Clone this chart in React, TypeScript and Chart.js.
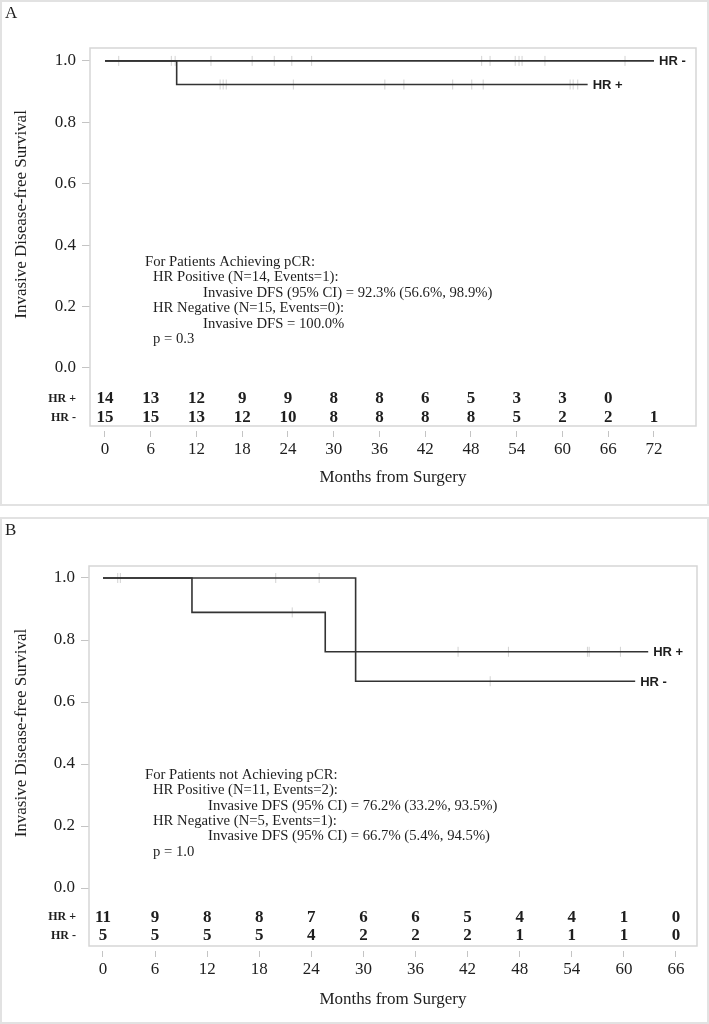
import React, { useEffect, useRef } from 'react';
import { Chart, registerables } from 'chart.js';

Chart.register(...registerables);

// ---------------- Panel A data ----------------
const monthsA = [0, 6, 12, 18, 24, 30, 36, 42, 48, 54, 60, 66, 72];
const riskA_HRpos = [14, 13, 12, 9, 9, 8, 8, 6, 5, 3, 3, 0];
const riskA_HRneg = [15, 15, 13, 12, 10, 8, 8, 8, 8, 5, 2, 2, 1];
const kmA_HRpos_t = [0, 9.4, 63.3];
const kmA_HRpos_s = [1, 0.923, 0.923];
const kmA_HRneg_t = [0, 72];
const kmA_HRneg_s = [1, 1];
const censA_HRpos = [1.8, 15.1, 15.5, 15.9, 24.7, 36.7, 39.2, 45.6, 48.1, 49.6, 61.0, 61.4, 62.0];
const censA_HRneg = [8.7, 9.2, 13.9, 19.3, 22.2, 24.5, 27.1, 49.4, 50.5, 53.8, 54.3, 54.7, 57.7, 68.2];
const noteA = [
  'For Patients Achieving pCR:',
  'HR Positive (N=14, Events=1):',
  'Invasive DFS (95% CI) = 92.3% (56.6%, 98.9%)',
  'HR Negative (N=15, Events=0):',
  'Invasive DFS = 100.0%',
  'p = 0.3',
];

// ---------------- Panel B data ----------------
const monthsB = [0, 6, 12, 18, 24, 30, 36, 42, 48, 54, 60, 66];
const riskB_HRpos = [11, 9, 8, 8, 7, 6, 6, 5, 4, 4, 1, 0];
const riskB_HRneg = [5, 5, 5, 5, 4, 2, 2, 2, 1, 1, 1, 0];
const kmB_HRpos_t = [0, 10.25, 25.6, 62.8];
const kmB_HRpos_s = [1, 0.889, 0.762, 0.762];
const kmB_HRneg_t = [0, 29.1, 61.3];
const kmB_HRneg_s = [1, 0.667, 0.667];
const censB_HRpos = [1.7, 2.0, 21.8, 40.9, 46.7, 55.8, 56.0, 59.6];
const censB_HRneg = [19.9, 24.9, 44.6];
const noteB = [
  'For Patients not Achieving pCR:',
  'HR Positive (N=11, Events=2):',
  'Invasive DFS (95% CI) = 76.2% (33.2%, 93.5%)',
  'HR Negative (N=5, Events=1):',
  'Invasive DFS (95% CI) = 66.7% (5.4%, 94.5%)',
  'p = 1.0',
];

const yTicks = [0, 0.2, 0.4, 0.6, 0.8, 1.0];
const groupLabels = ['HR +', 'HR -'];
const yTitle = 'Invasive Disease-free Survival';
const xTitle = 'Months from Surgery';

const SERIF = '"Liberation Serif", "Times New Roman", serif';
const SANS = '"Liberation Sans", Arial, sans-serif';
const INK = '#1e1e1e';

function survAt(t: number, times: number[], surv: number[]) {
  let v = surv[0];
  for (let i = 0; i < times.length; i++) if (times[i] <= t) v = surv[i];
  return v;
}

type Panel = {
  width: number;
  height: number;
  areaLeft: number;
  areaTop: number;
  areaRight: number;
  areaBottom: number;
  xMin: number;
  xMax: number;
  yMin: number;
  yMax: number;
  months: number[];
  riskPos: number[];
  riskNeg: number[];
  posT: number[];
  posS: number[];
  negT: number[];
  negS: number[];
  censPos: number[];
  censNeg: number[];
  note: string[];
  noteX: number;
  noteIndent: number[];
  noteY: number;
  noteStep: number;
  riskRowY: number[];
  titlePadBottom: number;
};

const panelA: Panel = {
  width: 709, height: 506,
  areaLeft: 90, areaTop: 48, areaRight: 696, areaBottom: 426,
  xMin: -1.967, xMax: 77.51, yMin: -0.189, yMax: 1.042,
  months: monthsA, riskPos: riskA_HRpos, riskNeg: riskA_HRneg,
  posT: kmA_HRpos_t, posS: kmA_HRpos_s, negT: kmA_HRneg_t, negS: kmA_HRneg_s,
  censPos: censA_HRpos, censNeg: censA_HRneg,
  note: noteA, noteX: 145, noteIndent: [0, 8, 58, 8, 58, 8], noteY: 262, noteStep: 15.5,
  riskRowY: [-0.101, -0.163],
  titlePadBottom: 18,
};

const panelB: Panel = {
  width: 709, height: 507,
  areaLeft: 89, areaTop: 49, areaRight: 697, areaBottom: 429,
  xMin: -1.61, xMax: 68.42, yMin: -0.187, yMax: 1.0387,
  months: monthsB, riskPos: riskB_HRpos, riskNeg: riskB_HRneg,
  posT: kmB_HRpos_t, posS: kmB_HRpos_s, negT: kmB_HRneg_t, negS: kmB_HRneg_s,
  censPos: censB_HRpos, censNeg: censB_HRneg,
  note: noteB, noteX: 145, noteIndent: [0, 8, 63, 8, 63, 8], noteY: 258, noteStep: 15.4,
  riskRowY: [-0.094, -0.155],
  titlePadBottom: 14,
};

function makeConfig(P: Panel): any {
  const decor = {
    id: 'kmDecor',
    beforeDatasetsDraw(chart: any) {
      const { ctx, chartArea: a } = chart;
      ctx.save();
      ctx.strokeStyle = '#d6d6d6';
      ctx.lineWidth = 1.5;
      ctx.strokeRect(a.left, a.top, a.right - a.left, a.bottom - a.top);
      ctx.restore();
    },
    afterDraw(chart: any) {
      const { ctx } = chart;
      const xs = chart.scales.x;
      const ys = chart.scales.y;
      ctx.save();
      // y-axis title centred on the 0..1 range
      ctx.translate(22, ys.getPixelForValue(0.5));
      ctx.rotate(-Math.PI / 2);
      ctx.font = `17px ${SERIF}`;
      ctx.fillStyle = INK;
      ctx.textAlign = 'center';
      ctx.textBaseline = 'middle';
      ctx.fillText(yTitle, 0, 0);
      ctx.restore();

      // risk table
      ctx.save();
      ctx.fillStyle = INK;
      ctx.textBaseline = 'middle';
      const rows = [P.riskPos, P.riskNeg];
      rows.forEach((row, r) => {
        const y = ys.getPixelForValue(P.riskRowY[r]);
        ctx.font = `bold 12px ${SERIF}`;
        ctx.textAlign = 'right';
        ctx.fillText(groupLabels[r], 76, y);
        ctx.font = `bold 17px ${SERIF}`;
        ctx.textAlign = 'center';
        row.forEach((n, i) => {
          ctx.fillText(String(n), xs.getPixelForValue(P.months[i]), y);
        });
      });
      ctx.restore();

      // annotation
      ctx.save();
      ctx.fillStyle = INK;
      ctx.font = `14.7px ${SERIF}`;
      ctx.textAlign = 'left';
      ctx.textBaseline = 'middle';
      P.note.forEach((line, i) => {
        ctx.fillText(line, P.noteX + P.noteIndent[i], P.noteY + i * P.noteStep);
      });
      ctx.restore();

      // curve end labels
      ctx.save();
      ctx.fillStyle = INK;
      ctx.font = `bold 13px ${SANS}`;
      ctx.textAlign = 'left';
      ctx.textBaseline = 'middle';
      const ends = [
        { t: P.posT, s: P.posS, label: groupLabels[0] },
        { t: P.negT, s: P.negS, label: groupLabels[1] },
      ];
      ends.forEach((e) => {
        const lt = e.t[e.t.length - 1];
        const ls = e.s[e.s.length - 1];
        ctx.fillText(e.label, xs.getPixelForValue(lt) + 5, ys.getPixelForValue(ls) + 1);
      });
      ctx.restore();
    },
  };

  const lineDs = (t: number[], s: number[]) => ({
    type: 'line',
    data: t.map((x, i) => ({ x, y: s[i] })),
    stepped: 'before',
    borderColor: '#333333',
    borderWidth: 1.6,
    pointRadius: 0,
    fill: false,
  });
  const censDs = (c: number[], t: number[], s: number[]) => ({
    type: 'line',
    data: c.map((x) => ({ x, y: survAt(x, t, s) })),
    showLine: false,
    pointStyle: 'line',
    rotation: 90,
    pointRadius: 5,
    pointBorderColor: '#d2d2d2',
    pointBorderWidth: 1,
    pointBackgroundColor: '#d2d2d2',
  });

  return {
    type: 'line',
    data: {
      datasets: [
        lineDs(P.posT, P.posS),
        lineDs(P.negT, P.negS),
        censDs(P.censPos, P.posT, P.posS),
        censDs(P.censNeg, P.negT, P.negS),
      ],
    },
    options: {
      animation: false,
      responsive: false,
      maintainAspectRatio: false,
      layout: { padding: { top: P.areaTop, right: P.width - P.areaRight, bottom: 0, left: 0 } },
      plugins: { legend: { display: false }, tooltip: { enabled: false }, title: { display: false } },
      scales: {
        x: {
          type: 'linear',
          min: P.xMin,
          max: P.xMax,
          afterBuildTicks: (s: any) => { s.ticks = P.months.map((v) => ({ value: v })); },
          afterFit: (s: any) => { s.height = P.height - P.areaBottom; },
          grid: {
            drawOnChartArea: false,
            drawTicks: true,
            tickLength: 11,
            tickColor: '#c4c4c4',
            tickWidth: 1,
            tickBorderDash: [0, 5, 6, 60],
          },
          border: { display: false },
          ticks: {
            font: { family: SERIF, size: 17 },
            color: INK,
            padding: 2,
            maxRotation: 0,
            autoSkip: false,
            callback: (v: any) => String(v),
          },
          title: {
            display: true,
            text: xTitle,
            font: { family: SERIF, size: 17 },
            color: INK,
            padding: { top: 0, bottom: P.titlePadBottom },
          },
        },
        y: {
          type: 'linear',
          min: P.yMin,
          max: P.yMax,
          afterBuildTicks: (s: any) => { s.ticks = yTicks.map((v) => ({ value: v })); },
          afterFit: (s: any) => { s.width = P.areaLeft; },
          grid: {
            drawOnChartArea: false,
            drawTicks: true,
            tickLength: 8,
            tickColor: '#c4c4c4',
            tickWidth: 1,
          },
          border: { display: false },
          ticks: {
            font: { family: SERIF, size: 17 },
            color: INK,
            padding: 6,
            callback: (v: any) => Number(v).toFixed(1),
          },
          title: { display: false },
        },
      },
    },
    plugins: [decor],
  };
}

function KMPanel({ panel, top, letter }: { panel: Panel; top: number; letter: string }) {
  const ref = useRef<HTMLCanvasElement | null>(null);
  useEffect(() => {
    if (!ref.current) return;
    const chart = new Chart(ref.current, makeConfig(panel));
    return () => chart.destroy();
  }, [panel]);
  return (
    <>
      <div
        style={{
          position: 'absolute',
          left: 0,
          top,
          width: 709,
          height: panel.height,
          boxSizing: 'border-box',
          border: '2px solid #e2e2e2',
        }}
      />
      <canvas
        ref={ref}
        width={panel.width}
        height={panel.height}
        style={{ position: 'absolute', left: 0, top, width: panel.width, height: panel.height }}
      />
      <div
        style={{
          position: 'absolute',
          left: 5,
          top: top + 3,
          fontFamily: SERIF,
          fontSize: 17,
          lineHeight: '20px',
          color: INK,
        }}
      >
        {letter}
      </div>
    </>
  );
}

export default function App() {
  return (
    <div style={{ position: 'absolute', left: 0, top: 0, width: 709, height: 1024, background: '#fff' }}>
      <KMPanel panel={panelA} top={0} letter="A" />
      <KMPanel panel={panelB} top={517} letter="B" />
    </div>
  );
}
